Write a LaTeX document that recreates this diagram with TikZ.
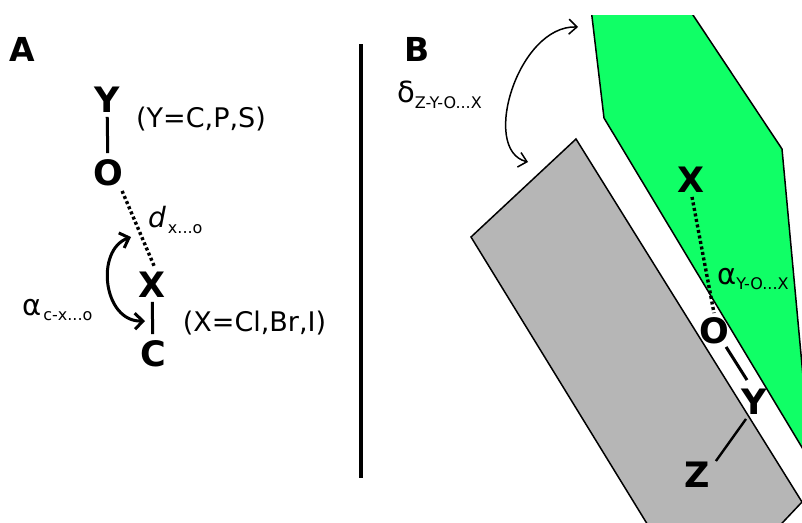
\documentclass[tikz,border=0pt]{standalone}
\usepackage{fontspec}
\setmainfont{DejaVu Sans}
\usetikzlibrary{arrows.meta}
\definecolor{vert}{HTML}{10FF66}
\definecolor{gris}{HTML}{B6B6B6}
\tikzset{
	atome/.style={font=\fontsize{35}{35}\selectfont\bfseries,inner sep=4pt},
	panneau/.style={font=\fontsize{33}{33}\selectfont\bfseries,inner sep=0pt},
	legende/.style={font=\fontsize{27}{27}\selectfont,inner sep=0pt},
	liaison/.style={line width=3pt},
	pointille/.style={line width=3.4pt,dash pattern=on 3pt off 2.6pt},
	plaque/.style={draw=black,line width=1.5pt,line join=miter}
}
\newcommand{\indice}[1]{{\fontsize{16}{16}\selectfont #1}}
\begin{document}
\begin{tikzpicture}[x=1pt,y=-1pt]
	\useasboundingbox (0,0) rectangle (802,522);
	% plans
	\begin{scope}
		\clip (0,15) rectangle (802,522);
		\draw[plaque,fill=vert] (590,0) -- (604,118) -- (830,494) -- (808,430) -- (782,149) -- (683,0) -- cycle;
		\draw[plaque,fill=gris] (471,237) -- (576,139) -- (802,502) -- (700,610) -- cycle;
	\end{scope}
	% partie A
	\node[panneau] (panA) at (22.5,49) {A};
	\node[atome] (Ya) at (107,100) {Y};
	\node[atome] (Oa) at (108,172.5) {O};
	\node[atome] (Xa) at (152,285) {X};
	\node[atome] (Ca) at (153,353.5) {C};
	\node[legende] (formY) at (201,119.5) {(Y=C,P,S)};
	\node[legende] (formX) at (254.5,323.5) {(X=Cl,Br,I)};
	\node[legende,anchor=west] (dist) at (148,220) {{\fontsize{28}{28}\selectfont\itshape d}\hspace{2pt}\raisebox{-5.5pt}{\indice{x...o}}};
	\node[legende,anchor=west] (angA) at (22,310) {{\fontsize{29}{29}\selectfont α}\hspace{2pt}\raisebox{-5.5pt}{\indice{c-x...o}}};
	\draw[liaison,shorten >=2pt] (Ya) -- (Oa);
	\draw[liaison,shorten >=2pt] (Xa) -- (Ca);
	\draw[pointille] ([xshift=-5pt,yshift=-1pt]Oa.south east) -- ([xshift=3pt]Xa.north);
	\coordinate (arcAh) at (131,237);
	\coordinate (arcAb) at (145,321);
	\draw[liaison,{Straight Barb[length=8pt,width=16pt]}-{Straight Barb[length=8pt,width=16pt]}] (arcAh) .. controls (95,250) and (103,322) .. (arcAb);
	% separation
	\coordinate (sepH) at (361,44);
	\coordinate (sepB) at (361,478);
	\draw[line width=4pt] (sepH) -- (sepB);
	% partie B
	\node[panneau] (panB) at (417,49) {B};
	\node[atome] (Xb) at (691,180) {X};
	\node[atome] (Ob) at (714,330.5) {O};
	\node[atome] (Yb) at (754,402) {Y};
	\node[atome] (Zb) at (697,475) {Z};
	\node[legende,anchor=west] (angD) at (397,95) {{\fontsize{29}{29}\selectfont δ}\raisebox{-5.5pt}{\indice{Z-Y-O...X}}};
	\node[legende,anchor=west] (angY) at (717,279) {{\fontsize{29}{29}\selectfont α}\raisebox{-5.5pt}{\indice{Y-O...X}}};
	\draw[liaison] ([xshift=-7pt,yshift=1pt]Ob.south east) -- ([xshift=-7pt,yshift=5pt]Yb.north);
	\draw[liaison,line width=2.4pt] ([xshift=-8pt]Yb.south) -- ([xshift=2pt,yshift=-3pt]Zb.north east);
	\draw[pointille] ([xshift=1pt]Xb.south) -- (Ob.north);
	\coordinate (arcBh) at (578,27);
	\coordinate (arcBb) at (528,162);
	\draw[line width=1.5pt,{Straight Barb[length=8pt,width=15pt]}-{Straight Barb[length=8pt,width=15pt]}] (arcBh) .. controls (518,25) and (480,150) .. (arcBb);
\end{tikzpicture}
\end{document}
